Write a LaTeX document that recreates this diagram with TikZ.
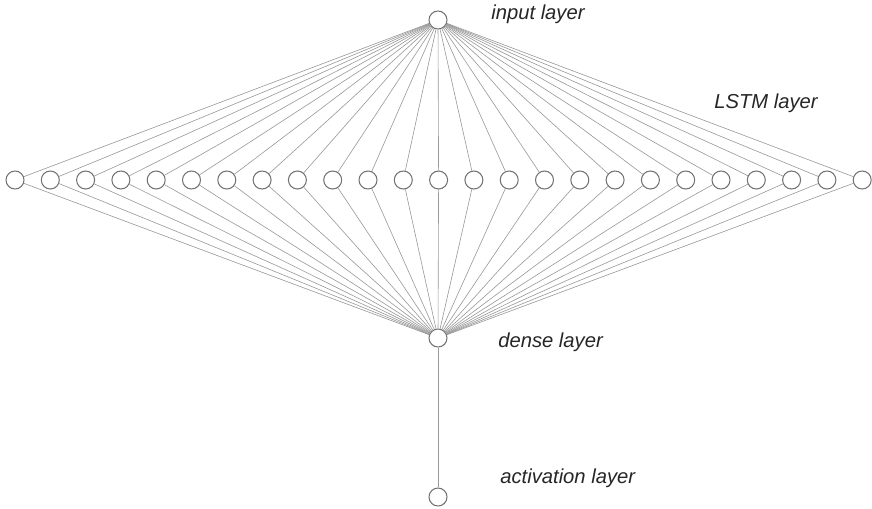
\documentclass[tikz,border=0pt]{standalone}
\usepackage{fontspec}
\setmainfont{Liberation Sans}
\usetikzlibrary{positioning}

\tikzset{
	unit/.style={circle,draw=black!55,fill=white,line width=0.6pt,minimum size=0.36cm,inner sep=0pt},
	link/.style={draw=black!40,line width=0.35pt},
	layername/.style={anchor=west,font=\fontsize{11.5}{13}\selectfont\itshape,text=black!85,inner sep=0pt}
}

\begin{document}
\begin{tikzpicture}[x=0.02cm,y=-0.02cm]
	\useasboundingbox (0,0) rectangle (872,508);

	%units
	\node[unit] (in) at (438,20) {};
	\foreach \i in {0,...,24}{
		\node[unit] (h\i) at (15+35.3*\i,180) {};
	}
	\node[unit] (dense) at (438,338) {};
	\node[unit] (act) at (438,497) {};

	%connections
	\foreach \i in {0,...,24}{
		\draw[link] (in) -- (h\i);
		\draw[link] (h\i) -- (dense);
	}
	\draw[link] (dense) -- (act);

	%labels
	\node[layername] (inname) at (491,14) {input layer};
	\node[layername] (lstmname) at (714,103) {LSTM layer};
	\node[layername] (densename) at (498,342) {dense layer};
	\node[layername] (actname) at (500,478) {activation layer};
\end{tikzpicture}
\end{document}
